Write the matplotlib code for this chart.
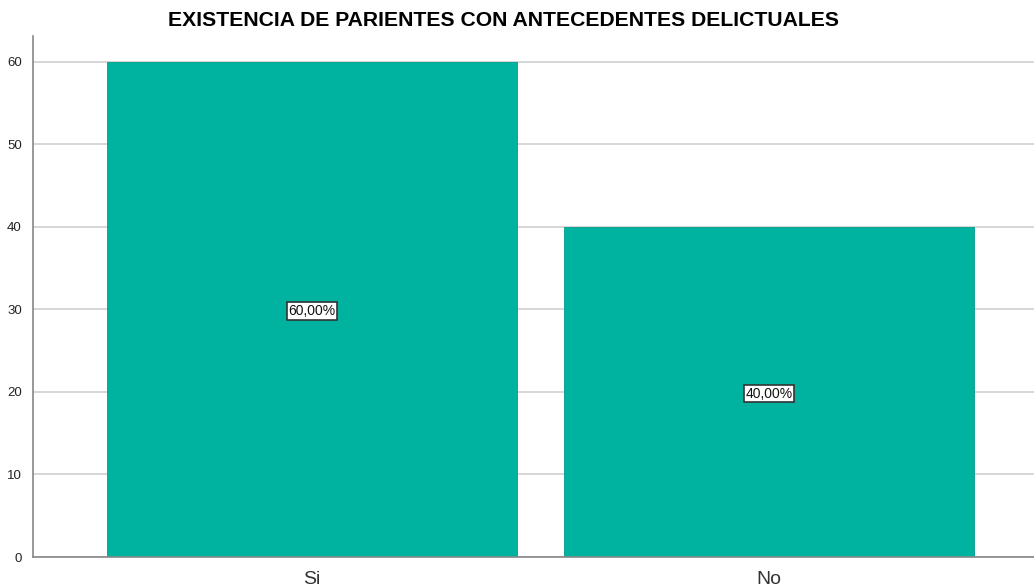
import numpy as np
from matplotlib import pyplot as plt

categories = ["Si", "No"]
values = [60, 40]
labels = ["60,00%", "40,00%"]

plt.rcParams['font.family'] = ['Liberation Sans', 'DejaVu Sans']

fig = plt.figure(figsize=(10.34, 5.86), dpi=100)
ax = fig.add_axes([33 / 1034, 29 / 586, 1 - 33 / 1034, (557 - 36) / 586])

x = np.arange(len(categories))
ax.bar(x, values, width=0.897, color="#00B3A1", edgecolor="#009C8C", linewidth=0.6, zorder=2)

for xi, v, lab in zip(x, values, labels):
    ax.text(xi, v / 2 - 0.2, lab, ha="center", va="center", fontsize=10, color="#111111", zorder=3,
            bbox=dict(boxstyle="square,pad=0.12", facecolor="white", edgecolor="#333333", linewidth=1.2))

ax.set_xlim(-0.61, 1.58)
ax.set_ylim(0, 63.15)
ax.set_yticks([0, 10, 20, 30, 40, 50, 60])
ax.set_xticks(x)
ax.set_xticklabels(categories, fontsize=14, color="#333333")
ax.tick_params(axis="y", labelsize=9.5, length=0, pad=8, labelcolor="#222222")
ax.tick_params(axis="x", length=0, pad=10)
ax.grid(True, axis="y", color="#D0D0D0", linewidth=1.2, zorder=0)
ax.set_axisbelow(True)

for side in ["top", "right"]:
    ax.spines[side].set_visible(False)
ax.spines["left"].set_color("#888888")
ax.spines["bottom"].set_color("#888888")
ax.spines["left"].set_linewidth(1.2)
ax.spines["bottom"].set_linewidth(1.2)

fig.text(504 / 1034, 1 - 21 / 586, "EXISTENCIA DE PARIENTES CON ANTECEDENTES DELICTUALES",
         ha="center", va="center", fontsize=15.2, fontweight="bold")

fig.savefig("out.png", dpi=100)
